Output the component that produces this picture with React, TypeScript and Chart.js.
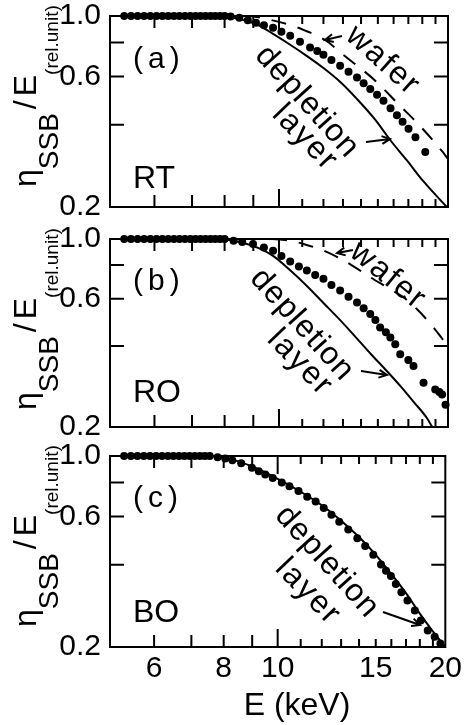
import React, { useEffect, useRef } from "react";
import { Chart, registerables } from "chart.js";

Chart.register(...registerables);

const FONT = '"Liberation Sans", Arial, sans-serif';
Chart.defaults.font.family = FONT;
Chart.defaults.color = "#000";

// ---- axes ----
const xMin = 5;
const xMax = 20;
const yMin = 0.2;
const yMax = 1.0;
const xTickLabels = [6, 8, 10, 15, 20];
const xTickMarks = [6, 7, 8, 9, 10, 11, 12, 13, 14, 15, 16, 17, 18, 19];
const yTickLabels = [0.2, 0.6, 1.0];
const yTickMarks = [0.4, 0.6, 0.8];

// ---- panel (a) RT ----
const dotsA_E = [5.3, 5.45, 5.6, 5.75, 5.9, 6.05, 6.2, 6.35, 6.5, 6.65, 6.8, 6.95, 7.1, 7.25, 7.4, 7.55, 7.7, 7.85, 8.0,
  8.2, 8.5, 8.8, 9.1, 9.4, 9.76, 10.1, 10.47, 10.9, 11.36, 11.7, 12.0, 12.4, 12.85, 13.3, 13.77, 14.15, 14.54, 14.95, 15.35, 15.8, 16.22, 16.6, 17.01, 17.5, 18.22];
const dotsA_V = [1, 1, 1, 1, 1, 1, 1, 1, 1, 1, 1, 1, 1, 1, 1, 1, 1, 1, 1,
  0.995, 0.985, 0.965, 0.945, 0.925, 0.905, 0.875, 0.846, 0.805, 0.767, 0.745, 0.721, 0.69, 0.658, 0.625, 0.596, 0.568, 0.541, 0.515, 0.49, 0.46, 0.433, 0.41, 0.387, 0.36, 0.318];
const depletionA_E = [5, 7.8, 8.5, 9.2, 9.76, 10.47, 11.2, 12, 12.9, 13.77, 14.8, 15.79, 16.9, 18.09, 19.9];
const depletionA_V = [1, 1, 0.975, 0.925, 0.86, 0.785, 0.715, 0.645, 0.57, 0.497, 0.42, 0.351, 0.296, 0.248, 0.2];
const waferA_E = [5, 8.8, 9.5, 10.5, 11.05, 12.1, 13.03, 13.95, 14.84, 16.33, 17.85, 19.52, 20];
const waferA_V = [1, 1, 0.975, 0.925, 0.89, 0.815, 0.72, 0.645, 0.58, 0.475, 0.395, 0.32, 0.3];

// ---- panel (b) RO ----
const dotsB_E = [5.3, 5.45, 5.6, 5.75, 5.9, 6.05, 6.2, 6.35, 6.5, 6.65, 6.8, 6.95, 7.1, 7.25, 7.4, 7.55, 7.7, 7.85, 8.0,
  8.3, 8.6, 8.99, 9.4, 9.76, 10.1, 10.47, 10.85, 11.21, 11.6, 12.0, 12.4, 12.85, 13.3, 13.77, 14.15, 14.54, 14.85, 15.14, 15.5, 15.79, 16.11, 16.44, 17.0, 17.36, 18.09, 18.98, 19.3, 19.52, 19.8];
const dotsB_V = [1, 1, 1, 1, 1, 1, 1, 1, 1, 1, 1, 1, 1, 1, 1, 1, 1, 1, 1,
  0.985, 0.975, 0.958, 0.93, 0.904, 0.865, 0.825, 0.79, 0.764, 0.735, 0.711, 0.675, 0.643, 0.61, 0.581, 0.553, 0.526, 0.5, 0.469, 0.45, 0.43, 0.406, 0.373, 0.355, 0.337, 0.292, 0.276, 0.27, 0.264, 0.242];
const depletionB_E = [5, 7.8, 8.5, 9.2, 9.76, 10.47, 11.2, 12, 12.9, 13.77, 14.6, 15.56, 16.5, 17.4, 18.34, 18.75];
const depletionB_V = [1, 1, 0.975, 0.925, 0.865, 0.765, 0.67, 0.578, 0.495, 0.426, 0.372, 0.323, 0.282, 0.247, 0.216, 0.2];
const waferB_E = [5, 9.5, 10.5, 11.2, 12, 13.2, 14.54, 15.6, 16.66, 17.6, 18.8, 19.7, 20];
const waferB_V = [1, 1, 0.985, 0.95, 0.907, 0.82, 0.721, 0.66, 0.607, 0.549, 0.472, 0.416, 0.4];

// ---- panel (c) BO ----
const dotsC_E = [5.3, 5.45, 5.6, 5.75, 5.9, 6.05, 6.2, 6.35, 6.5, 6.65, 6.8, 6.95, 7.1, 7.25, 7.4, 7.55,
  7.8, 8.05, 8.29, 8.6, 8.99, 9.25, 9.5, 9.8, 10.17, 10.5, 10.9, 11.3, 11.7, 12.1, 12.49, 12.9, 13.39, 13.9, 14.36, 14.85, 15.33, 15.65, 15.97, 16.3, 16.68, 17.1, 17.63, 18.07, 18.6, 19.14, 19.6];
const dotsC_V = [1, 1, 1, 1, 1, 1, 1, 1, 1, 1, 1, 1, 1, 1, 1, 1,
  0.99, 0.98, 0.965, 0.94, 0.905, 0.88, 0.855, 0.83, 0.8, 0.775, 0.745, 0.71, 0.681, 0.645, 0.61, 0.575, 0.538, 0.5, 0.468, 0.435, 0.401, 0.38, 0.364, 0.34, 0.317, 0.296, 0.272, 0.25, 0.23, 0.218, 0.206];
const depletionC_E = [5, 7.5, 8.3, 9, 10, 11, 12, 13, 14, 15, 16, 17, 18, 19, 20];
const depletionC_V = [1, 1, 0.97, 0.915, 0.825, 0.74, 0.66, 0.58, 0.505, 0.435, 0.37, 0.315, 0.265, 0.228, 0.2];

const pts = (xs: number[], ys: number[]) => xs.map((x, i) => ({ x, y: ys[i] }));

type Ann = {
  label: string; labelY: number; sample: string; sampleY: number;
  wafer?: { cx: number; cy: number; ang: number; arrow: number[] };
  depl: { cx: number; cy: number; ang: number };
  layer: { cx: number; cy: number; ang: number };
  arrow: number[];
};

const panels = [
  {
    id: "a", top: 16, bottom: 207, isBottom: false,
    dots: pts(dotsA_E, dotsA_V), depl: pts(depletionA_E, depletionA_V), wafer: pts(waferA_E, waferA_V),
    ann: {
      label: "(a)", labelY: 44, sample: "RT", sampleY: 172,
      wafer: { cx: 273, cy: 45, ang: 42, arrow: [232, 20, 215, 24] },
      depl: { cx: 197, cy: 86, ang: 48 }, layer: { cx: 195, cy: 122, ang: 46 },
      arrow: [256, 126, 280, 123],
    } as Ann,
  },
  {
    id: "b", top: 239, bottom: 427, isBottom: false,
    dots: pts(dotsB_E, dotsB_V), depl: pts(depletionB_E, depletionB_V), wafer: pts(waferB_E, waferB_V),
    ann: {
      label: "(b)", labelY: 43, sample: "RO", sampleY: 163,
      wafer: { cx: 278, cy: 37, ang: 39, arrow: [243, 11, 227, 14] },
      depl: { cx: 192, cy: 86, ang: 48 }, layer: { cx: 190, cy: 124, ang: 46 },
      arrow: [251, 132, 277, 136],
    } as Ann,
  },
  {
    id: "c", top: 456, bottom: 647, isBottom: true,
    dots: pts(dotsC_E, dotsC_V), depl: pts(depletionC_E, depletionC_V), wafer: null as any,
    ann: {
      label: "(c)", labelY: 43, sample: "BO", sampleY: 166,
      depl: { cx: 217, cy: 106, ang: 48 }, layer: { cx: 198, cy: 136, ang: 46 },
      arrow: [273, 156, 310, 169],
    } as Ann,
  },
];

const CANVAS_OFFSET = 50;
const CANVAS_H = 825;
const X_AXIS_H = 60;

function drawArrow(ctx: CanvasRenderingContext2D, x0: number, y0: number, x1: number, y1: number) {
  const ang = Math.atan2(y1 - y0, x1 - x0);
  const h = 9;
  ctx.beginPath();
  ctx.moveTo(x0, y0);
  ctx.lineTo(x1, y1);
  ctx.moveTo(x1 - h * Math.cos(ang - 0.45), y1 - h * Math.sin(ang - 0.45));
  ctx.lineTo(x1, y1);
  ctx.lineTo(x1 - h * Math.cos(ang + 0.45), y1 - h * Math.sin(ang + 0.45));
  ctx.stroke();
}

function rotText(ctx: CanvasRenderingContext2D, text: string, cx: number, cy: number, ang: number, size: number, spacing: number) {
  ctx.save();
  ctx.translate(cx, cy);
  ctx.rotate((ang * Math.PI) / 180);
  ctx.font = `${size}px ${FONT}`;
  (ctx as any).letterSpacing = `${spacing}px`;
  ctx.textAlign = "center";
  ctx.textBaseline = "middle";
  ctx.fillText(text, 0, 0);
  ctx.restore();
}

function makeDecor(p: typeof panels[number]) {
  return {
    id: "decor" + p.id,
    beforeDatasetsDraw(chart: any) {
      const { ctx, chartArea: a, scales } = chart;
      ctx.save();
      ctx.strokeStyle = "#000";
      ctx.lineWidth = 2;
      ctx.strokeRect(a.left, a.top, a.right - a.left, a.bottom - a.top);
      ctx.beginPath();
      for (const v of xTickMarks) {
        const px = scales.x.getPixelForValue(v);
        const len = v === 10 ? 18 : v < 10 ? 12 : 8;
        ctx.moveTo(px, a.bottom);
        ctx.lineTo(px, a.bottom - len);
        ctx.moveTo(px, a.top);
        ctx.lineTo(px, a.top + len);
      }
      for (const v of yTickMarks) {
        const py = scales.y.getPixelForValue(v);
        ctx.moveTo(a.left, py);
        ctx.lineTo(a.left + 14, py);
        ctx.moveTo(a.right, py);
        ctx.lineTo(a.right - 14, py);
      }
      ctx.stroke();
      ctx.restore();
    },
    afterDraw(chart: any) {
      const { ctx, chartArea: a } = chart;
      const an = p.ann;
      ctx.save();
      ctx.fillStyle = "#000";
      ctx.strokeStyle = "#000";
      ctx.lineWidth = 2;
      // panel label
      ctx.font = `30px ${FONT}`;
      (ctx as any).letterSpacing = "5px";
      ctx.textAlign = "left";
      ctx.textBaseline = "middle";
      ctx.fillText(an.label, a.left + 23, a.top + an.labelY);
      (ctx as any).letterSpacing = "0px";
      ctx.font = `32px ${FONT}`;
      ctx.textBaseline = "alphabetic";
      ctx.fillText(an.sample, a.left + 23, a.top + an.sampleY);
      // rotated annotations
      if (an.wafer) {
        rotText(ctx, "wafer", a.left + an.wafer.cx, a.top + an.wafer.cy, an.wafer.ang, 32, 2);
        const w = an.wafer.arrow;
        drawArrow(ctx, a.left + w[0], a.top + w[1], a.left + w[2], a.top + w[3]);
      }
      rotText(ctx, "depletion", a.left + an.depl.cx, a.top + an.depl.cy, an.depl.ang, 32, 1);
      rotText(ctx, "layer", a.left + an.layer.cx, a.top + an.layer.cy, an.layer.ang, 32, 2);
      const ar = an.arrow;
      drawArrow(ctx, a.left + ar[0], a.top + ar[1], a.left + ar[2], a.top + ar[3]);
      // y title
      ctx.save();
      ctx.translate(36, a.top + 171);
      ctx.rotate(-Math.PI / 2);
      ctx.textAlign = "left";
      ctx.textBaseline = "alphabetic";
      let x = 0;
      ctx.font = `32px ${FONT}`;
      ctx.fillText("η", x, 0);
      x += ctx.measureText("η").width;
      ctx.font = `28px ${FONT}`;
      ctx.fillText("SSB", x, 22);
      x += ctx.measureText("SSB").width + 4;
      ctx.font = `32px ${FONT}`;
      ctx.fillText("/", x, 0);
      x += ctx.measureText("/").width + 4;
      ctx.fillText("E", x, 0);
      x += ctx.measureText("E").width;
      ctx.font = `19px ${FONT}`;
      ctx.fillText("(rel.unit)", x, 22);
      ctx.restore();
      // x title
      if (p.isBottom) {
        ctx.font = `32px ${FONT}`;
        ctx.textAlign = "center";
        ctx.textBaseline = "alphabetic";
        ctx.fillText("E (keV)", a.left + 187, a.bottom + 68);
      }
      ctx.restore();
    },
  };
}

function Panel({ p }: { p: typeof panels[number] }) {
  const ref = useRef<HTMLCanvasElement>(null);
  useEffect(() => {
    const padTop = p.top + CANVAS_OFFSET;
    const padBottom = p.isBottom
      ? CANVAS_H - (p.bottom + CANVAS_OFFSET) - X_AXIS_H
      : CANVAS_H - (p.bottom + CANVAS_OFFSET);
    const datasets: any[] = [
      {
        data: p.dots, showLine: false, pointRadius: 4, pointBackgroundColor: "#000",
        pointBorderWidth: 0, borderColor: "#000", clip: false,
      },
      {
        data: p.depl, borderColor: "#000", borderWidth: 2, pointRadius: 0,
        cubicInterpolationMode: "monotone", fill: false,
      },
    ];
    if (p.wafer) {
      datasets.push({
        data: p.wafer, borderColor: "#000", borderWidth: 2, pointRadius: 0,
        borderDash: [15, 12], cubicInterpolationMode: "monotone", fill: false,
      });
    }
    const xScale: any = {
      type: "logarithmic",
      min: xMin,
      max: xMax,
      display: p.isBottom,
      grid: { display: false, drawTicks: false },
      border: { display: false },
      ticks: {
        font: { size: 30, family: FONT },
        color: "#000",
        padding: 4,
        maxRotation: 0,
        autoSkip: false,
        callback: (v: any) => String(v),
      },
      afterBuildTicks: (s: any) => {
        s.ticks = xTickLabels.map((v) => ({ value: v }));
      },
    };
    if (p.isBottom) {
      xScale.afterFit = (s: any) => {
        s.height = X_AXIS_H;
      };
    }
    const chart = new Chart(ref.current!, {
      type: "line",
      data: { datasets },
      options: {
        responsive: false,
        animation: false,
        events: [],
        layout: { padding: { left: 0, right: 18, top: padTop, bottom: padBottom } },
        plugins: { legend: { display: false }, tooltip: { enabled: false }, title: { display: false } },
        scales: {
          x: xScale,
          y: {
            type: "logarithmic",
            min: yMin,
            max: yMax,
            grid: { display: false, drawTicks: false },
            border: { display: false },
            ticks: {
              font: { size: 30, family: FONT },
              color: "#000",
              padding: 9,
              autoSkip: false,
              callback: (v: any) => Number(v).toFixed(1),
            },
            afterBuildTicks: (s: any) => {
              s.ticks = yTickLabels.map((v) => ({ value: v }));
            },
            afterFit: (s: any) => {
              s.width = 110;
            },
          } as any,
        },
      },
      plugins: [makeDecor(p)],
    });
    return () => chart.destroy();
  }, []);
  return (
    <canvas
      ref={ref}
      width={466}
      height={CANVAS_H}
      style={{ position: "absolute", left: 0, top: -CANVAS_OFFSET, width: 466, height: CANVAS_H }}
    />
  );
}

export default function App() {
  return (
    <div
      style={{
        position: "absolute", left: 0, top: 0, width: 466, height: 725,
        overflow: "hidden", background: "#fff",
      }}
    >
      {panels.map((p) => (
        <Panel key={p.id} p={p} />
      ))}
    </div>
  );
}
